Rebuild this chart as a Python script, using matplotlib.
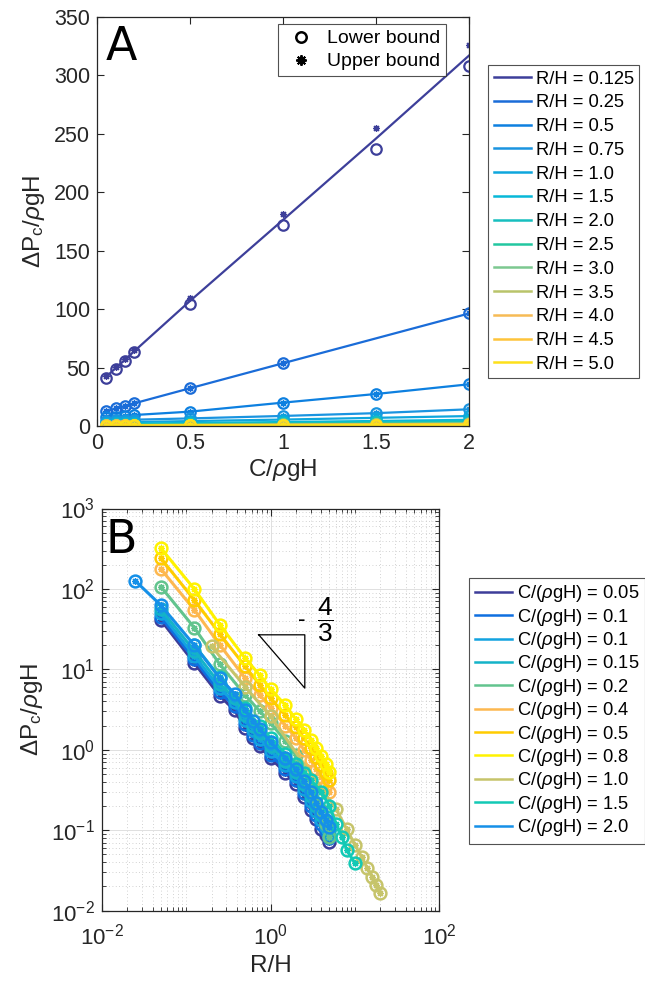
import matplotlib
matplotlib.use('Agg')
import matplotlib.pyplot as plt
from matplotlib.lines import Line2D
from matplotlib.ticker import FixedLocator, LogLocator, NullFormatter
import numpy as np

plt.rcParams['font.family'] = ['Liberation Sans', 'DejaVu Sans']
plt.rcParams['mathtext.fontset'] = 'custom'
plt.rcParams['mathtext.rm'] = 'Liberation Sans'
plt.rcParams['mathtext.it'] = 'Liberation Sans:italic'
plt.rcParams['mathtext.bf'] = 'Liberation Sans:bold'

# ---------------- Panel A data ----------------
C_full = [0.05, 0.1, 0.15, 0.2, 0.5, 1.0, 1.5, 2.0]
C_no15 = [0.05, 0.1, 0.15, 0.2, 0.5, 1.0, 2.0]
rh_labels = ['0.125', '0.25', '0.5', '0.75', '1.0', '1.5', '2.0', '2.5',
             '3.0', '3.5', '4.0', '4.5', '5.0']
a_lo_0125 = [41.4, 48.6, 55.7, 62.9, 104.6, 171.7, 237.4, 308.0]
a_up_0125 = [43.0, 50.5, 57.5, 65.0, 109.4, 181.0, 254.6, 326.0]
a_lo_025 = [12.5, 15.1, 17.1, 19.4, 32.3, 53.7, 96.3]
a_lo_05 = [7.4, 8.0, 8.6, 9.4, 12.3, 20.0, 27.4, 35.7]
a_lo_075 = [4.5, 4.8, 5.1, 5.4, 6.5, 8.6, 11.0, 14.3]
a_lo_10 = [2.8, 3.0, 3.2, 3.4, 4.2, 5.5, 7.0, 8.5]
a_lo_15 = [1.8, 1.9, 2.0, 2.1, 2.6, 3.4, 4.3, 5.3]
a_lo_20 = [1.2, 1.3, 1.4, 1.5, 1.8, 2.4, 3.0, 3.8]
a_lo_25 = [0.9, 1.0, 1.05, 1.1, 1.4, 1.8, 2.3, 2.9]
a_lo_30 = [0.7, 0.75, 0.8, 0.85, 1.1, 1.4, 1.8, 2.3]
a_lo_35 = [0.55, 0.6, 0.65, 0.7, 0.9, 1.15, 1.5, 1.9]
a_lo_40 = [0.45, 0.5, 0.55, 0.6, 0.75, 0.95, 1.25, 1.6]
a_lo_45 = [0.4, 0.42, 0.45, 0.5, 0.65, 0.8, 1.05, 1.35]
a_lo_50 = [0.35, 0.37, 0.4, 0.43, 0.55, 0.7, 0.9, 1.15]
colors_A = ['#3d3f9a', '#1a6cd8', '#0d80e0', '#1a94e0', '#0ea6dd', '#07b8d8',
            '#17bfbf', '#22c7a0', '#7cc890', '#b9c46a', '#f6bb55', '#fec43a',
            '#fde01a']

# ---------------- Panel B data ----------------
b_labels = ['0.05', '0.1', '0.1', '0.15', '0.2', '0.4', '0.5', '0.8', '1.0', '1.5', '2.0']
R_blue = [0.05, 0.125, 0.25, 0.375, 0.5, 0.625, 0.75, 1.0, 1.5, 2.0, 2.5, 3.0, 3.5, 4.0, 4.5, 5.0]
b_c005 = [41.4, 12.0, 4.7, 3.1, 1.85, 1.4, 1.1, 0.79, 0.52, 0.38, 0.26, 0.18, 0.14, 0.105, 0.088, 0.072]
b_c01a = [45, 13.3, 5.2, 3.5, 2.1, 1.55, 1.22, 0.87, 0.57, 0.42, 0.29, 0.2, 0.155, 0.118, 0.097, 0.08]
b_c01b = [50, 14.8, 5.8, 3.9, 2.35, 1.75, 1.38, 0.98, 0.64, 0.47, 0.33, 0.23, 0.175, 0.135, 0.11, 0.09]
b_c015 = [56, 17, 6.6, 4.4, 2.7, 2.0, 1.6, 1.12, 0.73, 0.53, 0.38, 0.27, 0.2, 0.155, 0.125, 0.1]
R_warm = [0.05, 0.125, 0.25, 0.5, 0.75, 1.0, 1.5, 2.0, 2.5, 3.0, 3.5, 4.0, 4.5, 5.0]
b_c02 = [107, 33, 11.6, 4.8, 3.0, 2.15, 1.3, 0.85, 0.56, 0.38, 0.26, 0.18, 0.12, 0.083]
b_c04 = [178, 55, 20.2, 7.8, 4.8, 3.3, 2.0, 1.4, 1.0, 0.75, 0.58, 0.46, 0.37, 0.30]
b_c05 = [242, 73, 27.7, 10.9, 6.4, 4.4, 2.7, 1.9, 1.4, 1.05, 0.82, 0.64, 0.52, 0.42]
b_c08 = [323, 100, 36, 13.8, 8.4, 5.7, 3.6, 2.4, 1.77, 1.33, 1.05, 0.83, 0.66, 0.53]
R_olive = [0.2, 0.5, 1.0, 6.0, 8.0, 10.0, 12.0, 14.0, 16.0, 18.0, 20.0]
b_c10 = [19.3, 6.1, 2.6, 0.183, 0.103, 0.066, 0.047, 0.034, 0.0266, 0.021, 0.0168]
R_teal = [0.125, 0.25, 0.5, 0.75, 1.0, 1.5, 2.0, 2.5, 3.0, 4.0, 5.0, 6.0, 7.0, 8.0, 10.0]
b_c15 = [20, 8.0, 3.3, 1.95, 1.4, 0.9, 0.66, 0.52, 0.42, 0.3, 0.2, 0.12, 0.083, 0.057, 0.039]
R_c20 = [0.025, 0.05, 0.125, 0.25, 0.375, 0.5, 0.625, 0.75, 1.0, 1.5, 2.0, 2.5, 3.0, 3.5, 4.0, 4.5, 5.0]
b_c20 = [126, 63, 20, 7.8, 5.0, 3.1, 2.3, 1.8, 1.25, 0.8, 0.57, 0.41, 0.3, 0.22, 0.17, 0.135, 0.11]
colors_B = ['#3d3d99', '#0f6fe0', '#12a3e0', '#14b3c8', '#62c48e', '#fdb850',
            '#ffcc00', '#fff200', '#c6c46a', '#13c9b5', '#1590e8']
tri_x = [0.726, 2.55, 2.55, 0.726]
tri_y = [26.9, 26.9, 5.85, 26.9]

AX_COL = '#262626'
ASTER = (8, 2, 0)
TICK_FS = 15.5
LAB_FS = 17.5
LEG_FS = 13.2

fig = plt.figure(figsize=(6.45, 9.82), dpi=100)

# ================= Panel A =================
axA = fig.add_axes([97/645, 1-426/982, 372/645, 409/982])
A_series = [
    (C_full, a_lo_0125, a_up_0125),
    (C_no15, a_lo_025, a_lo_025),
    (C_full, a_lo_05, a_lo_05),
    (C_full, a_lo_075, a_lo_075),
    (C_full, a_lo_10, a_lo_10),
    (C_full, a_lo_15, a_lo_15),
    (C_full, a_lo_20, a_lo_20),
    (C_full, a_lo_25, a_lo_25),
    (C_full, a_lo_30, a_lo_30),
    (C_full, a_lo_35, a_lo_35),
    (C_full, a_lo_40, a_lo_40),
    (C_full, a_lo_45, a_lo_45),
    (C_full, a_lo_50, a_lo_50),
]
for (cx, lo, up), col in zip(A_series, colors_A):
    mid = (np.array(lo) + np.array(up)) / 2
    axA.plot(cx, mid, '-', color=col, lw=1.6)
    axA.plot(cx, lo, 'o', mfc='none', mec=col, ms=7.5, mew=1.6, ls='none')
    axA.plot(cx, up, marker=ASTER, color=col, ms=5, mew=0.9, ls='none')

axA.set_xlim(0, 2)
axA.set_ylim(0, 350)
axA.set_xticks([0, 0.5, 1, 1.5, 2])
axA.set_xticklabels(['0', '0.5', '1', '1.5', '2'])
axA.set_yticks(np.arange(0, 351, 50))
axA.tick_params(direction='in', top=True, right=True, length=5, width=0.8,
                labelsize=TICK_FS, colors=AX_COL, pad=5)
for s in axA.spines.values():
    s.set_color(AX_COL); s.set_linewidth(0.9)
axA.set_xlabel(r'C/$\rho$gH', fontsize=LAB_FS, color=AX_COL, labelpad=2)
axA.set_ylabel(r'ΔP$_{\rm c}$/$\rho$gH', fontsize=LAB_FS, color=AX_COL, labelpad=5)
axA.text(0.024, 0.895, 'A', transform=axA.transAxes, fontsize=33,
         family='DejaVu Sans', va='baseline', ha='left')

hb = [Line2D([], [], marker='o', mfc='none', mec='k', mew=1.8, ms=7.5, ls='none'),
      Line2D([], [], marker=ASTER, color='k', mew=1.4, ms=7.5, ls='none')]
legb = axA.legend(hb, ['Lower bound', 'Upper bound'], loc='upper right',
                  bbox_to_anchor=(0.938, 0.983), borderaxespad=0, fontsize=14,
                  frameon=True, fancybox=False, edgecolor=AX_COL,
                  handlelength=1.7, handletextpad=0.5, labelspacing=0.28,
                  borderpad=0.3)
legb.get_frame().set_linewidth(0.8)

hA = [Line2D([], [], color=c, lw=1.8) for c in colors_A]
legA = fig.legend(hA, ['R/H = ' + l for l in rh_labels], loc='upper left',
                  bbox_to_anchor=(488/645, 1-65/982), borderaxespad=0,
                  fontsize=LEG_FS, frameon=True, fancybox=False, edgecolor=AX_COL,
                  handlelength=2.05, handletextpad=0.25, labelspacing=0.37,
                  borderpad=0.3)
legA.get_frame().set_linewidth(0.8)

# ================= Panel B =================
axB = fig.add_axes([101.7/645, 1-910.7/982, 337.6/645, 402.2/982])
B_series = [
    (R_blue, b_c005), (R_blue, b_c01a), (R_blue, b_c01b), (R_blue, b_c015),
    (R_warm, b_c02), (R_warm, b_c04), (R_warm, b_c05), (R_warm, b_c08),
    (R_olive, b_c10), (R_teal, b_c15), (R_c20, b_c20),
]
for (rx, vals), col in zip(B_series, colors_B):
    axB.plot(rx, vals, '-', color=col, lw=2.2)
    axB.plot(rx, vals, 'o', mfc='none', mec=col, ms=8.5, mew=1.8, ls='none')
    axB.plot(rx, vals, marker=ASTER, color=col, ms=5, mew=0.9, ls='none')

axB.plot(tri_x, tri_y, '-', color='k', lw=0.9)
axB.text(0.592, 0.722, '-', transform=axB.transAxes, fontsize=15,
         family='DejaVu Sans', ha='center', va='center')
axB.text(0.661, 0.722, r'$\dfrac{4}{3}$', transform=axB.transAxes, fontsize=19,
         ha='center', va='center')

axB.set_xscale('log'); axB.set_yscale('log')
axB.set_xlim(1e-2, 1e2)
axB.set_ylim(1e-2, 1e3)
axB.xaxis.set_major_locator(FixedLocator([1e-2, 1e0, 1e2]))
axB.xaxis.set_minor_locator(LogLocator(base=10, subs=np.arange(1, 10), numticks=20))
axB.xaxis.set_minor_formatter(NullFormatter())
axB.yaxis.set_major_locator(LogLocator(base=10, numticks=10))
axB.yaxis.set_minor_locator(LogLocator(base=10, subs=np.arange(2, 10), numticks=20))
axB.yaxis.set_minor_formatter(NullFormatter())
axB.set_axisbelow(True)
axB.grid(True, which='major', color='#e0e0e0', lw=0.7, ls='-')
axB.grid(True, which='minor', color='#c4c4c4', lw=0.6, ls=(0, (1, 3)))
axB.tick_params(which='both', direction='in', top=True, right=True,
                colors=AX_COL, labelsize=TICK_FS + 0.5)
axB.tick_params(which='major', length=5, width=0.8, pad=5)
axB.tick_params(which='minor', length=3, width=0.6)
axB.tick_params(axis='x', which='major', pad=9)
for s in axB.spines.values():
    s.set_color(AX_COL); s.set_linewidth(0.9)
axB.set_xlabel('R/H', fontsize=LAB_FS, color=AX_COL, labelpad=4)
axB.set_ylabel(r'ΔP$_{\rm c}$/$\rho$gH', fontsize=LAB_FS, color=AX_COL, labelpad=4)
axB.text(0.01, 0.889, 'B', transform=axB.transAxes, fontsize=33,
         family='DejaVu Sans', va='baseline', ha='left')

hB = [Line2D([], [], color=c, lw=1.8) for c in colors_B]
legB = fig.legend(hB, [r'C/($\rho$gH) = ' + l for l in b_labels], loc='upper left',
                  bbox_to_anchor=(469/645, 1-577.7/982), borderaxespad=0,
                  fontsize=LEG_FS, frameon=True, fancybox=False, edgecolor=AX_COL,
                  handlelength=2.05, handletextpad=0.25, labelspacing=0.13,
                  borderpad=0.3)
legB.get_frame().set_linewidth(0.8)

fig.savefig('out.png', dpi=100)
